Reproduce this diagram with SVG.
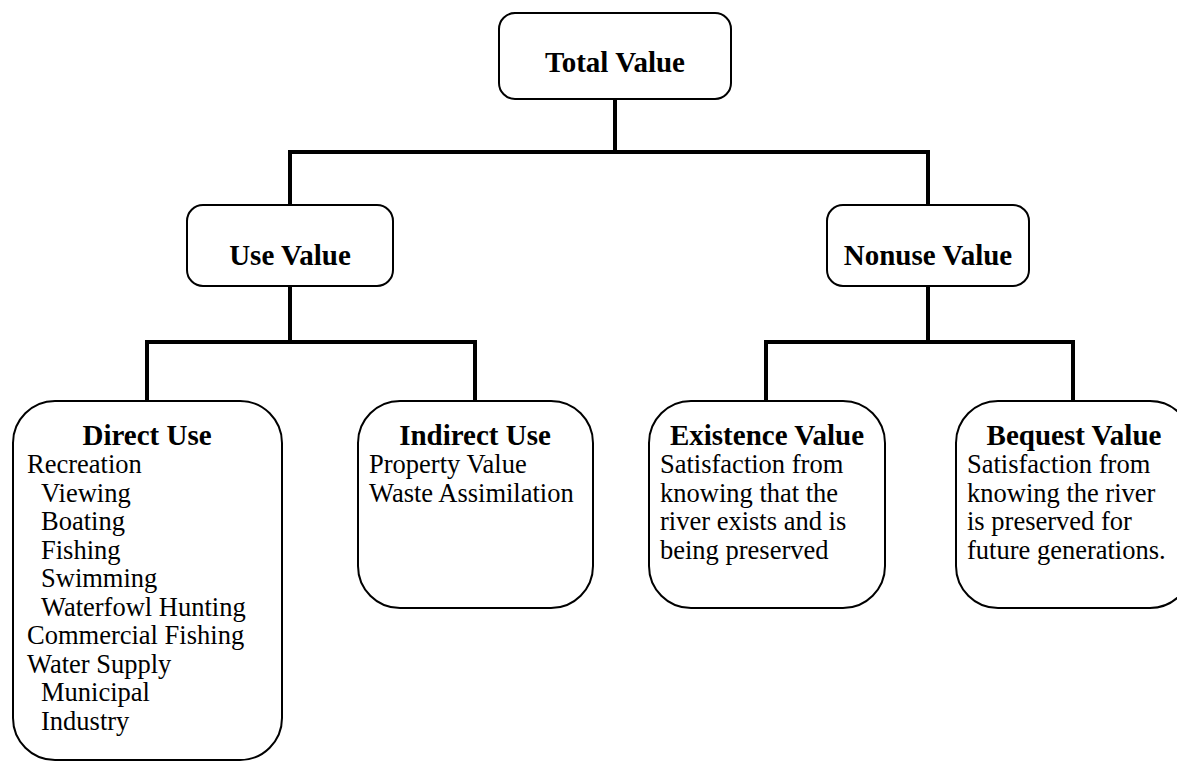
<svg xmlns="http://www.w3.org/2000/svg" width="1177" height="761" viewBox="0 0 1177 761">
<style>
.box{fill:#fff;stroke:#000;stroke-width:2}
.conn{fill:none;stroke:#000;stroke-width:4;stroke-linecap:square}
.h{font-family:"Liberation Serif","Times New Roman",serif;font-weight:bold;font-size:29px;fill:#000;text-anchor:middle}
.t{font-family:"Liberation Serif","Times New Roman",serif;font-size:26.5px;fill:#000}
</style>
<rect width="1177" height="761" fill="#fff"/>
<g id="connectors">
<path class="conn" d="M615 99 V152 M290 152 H928 M290 152 V205 M928 152 V205"/>
<path class="conn" d="M290 286 V342 M147 342 H475 M147 342 V400 M475 342 V400"/>
<path class="conn" d="M928 286 V342 M766 342 H1073 M766 342 V400 M1073 342 V400"/>
</g>
<g id="total">
<rect class="box" x="499" y="13" width="232" height="86" rx="16"/>
<text class="h" x="615" y="72">Total Value</text>
</g>
<g id="use">
<rect class="box" x="187" y="205" width="206" height="81" rx="16"/>
<text class="h" x="290" y="265">Use Value</text>
</g>
<g id="nonuse">
<rect class="box" x="827" y="205" width="202" height="81" rx="16"/>
<text class="h" x="928" y="265">Nonuse Value</text>
</g>
<g id="direct">
<rect class="box" x="13" y="401" width="269" height="359" rx="42"/>
<text class="h" x="147" y="445">Direct Use</text>
<text class="t" x="27" y="473">Recreation</text>
<text class="t" x="41" y="501.5">Viewing</text>
<text class="t" x="41" y="530">Boating</text>
<text class="t" x="41" y="558.5">Fishing</text>
<text class="t" x="41" y="587">Swimming</text>
<text class="t" x="41" y="615.5">Waterfowl Hunting</text>
<text class="t" x="27" y="644">Commercial Fishing</text>
<text class="t" x="27" y="672.5">Water Supply</text>
<text class="t" x="41" y="701">Municipal</text>
<text class="t" x="41" y="729.5">Industry</text>
</g>
<g id="indirect">
<rect class="box" x="358" y="401" width="235" height="207" rx="42"/>
<text class="h" x="475" y="445">Indirect Use</text>
<text class="t" x="369" y="473">Property Value</text>
<text class="t" x="369" y="501.5">Waste Assimilation</text>
</g>
<g id="existence">
<rect class="box" x="649" y="401" width="236" height="207" rx="42"/>
<text class="h" x="767" y="445">Existence Value</text>
<text class="t" x="660" y="473">Satisfaction from</text>
<text class="t" x="660" y="501.5">knowing that the</text>
<text class="t" x="660" y="530">river exists and is</text>
<text class="t" x="660" y="558.5">being preserved</text>
</g>
<g id="bequest">
<rect class="box" x="956" y="401" width="236" height="207" rx="42"/>
<text class="h" x="1074" y="445">Bequest Value</text>
<text class="t" x="967" y="473">Satisfaction from</text>
<text class="t" x="967" y="501.5">knowing the river</text>
<text class="t" x="967" y="530">is preserved for</text>
<text class="t" x="967" y="558.5">future generations.</text>
</g>
</svg>
